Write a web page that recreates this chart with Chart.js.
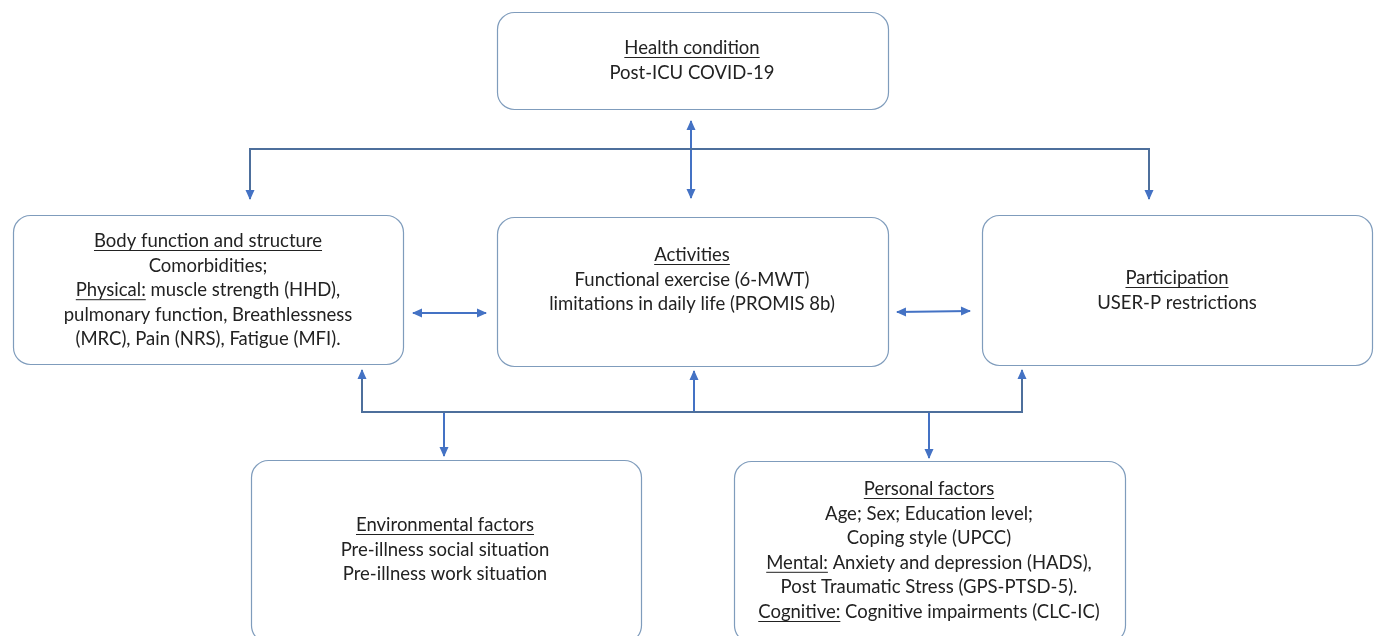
<!DOCTYPE html>
<html>
<head>
<meta charset="utf-8">
<script src="https://cdn.jsdelivr.net/npm/chart.js@4.4.1/dist/chart.umd.min.js"></script>
<style>
  html, body { margin: 0; padding: 0; background: #fff; }
  canvas { display: block; }
</style>
</head>
<body>
<canvas id="diagram" width="1378" height="636"></canvas>
<script>
// ICF model, post-ICU COVID-19 : boxes + connectors, drawn on hidden linear scales (x 0..1378, y 0..636 top-down)

// boxes
const boxNames  = ['health', 'body', 'activities', 'participation', 'environment', 'personal'];
const boxLeft   = [497, 13, 497, 982, 251, 734];
const boxRight  = [888, 403, 888, 1372, 641, 1125];
const boxTop    = [12, 215, 217, 215, 460, 461];
const boxBottom = [109, 364, 366, 365, 642, 642];
const boxCenterX = [692, 208, 692, 1177, 445, 929];
const boxFirstLineY = [48, 241, 255, 278, 525, 489];

const boxTitles = [
    'Health condition',
    'Body function and structure',
    'Activities',
    'Participation',
    'Environmental factors',
    'Personal factors'
];
// each line = [underlined prefix, plain rest]
const boxLines = [
    [['', 'Post-ICU COVID-19']],
    [['', 'Comorbidities;'],
     ['Physical: ', 'muscle strength (HHD),'],
     ['', 'pulmonary function, Breathlessness'],
     ['', '(MRC), Pain (NRS), Fatigue (MFI).']],
    [['', 'Functional exercise (6-MWT)'],
     ['', 'limitations in daily life (PROMIS 8b)']],
    [['', 'USER-P restrictions']],
    [['', 'Pre-illness social situation'],
     ['', 'Pre-illness work situation']],
    [['', 'Age; Sex; Education level;'],
     ['', 'Coping style (UPCC)'],
     ['Mental: ', 'Anxiety and depression (HADS),'],
     ['', 'Post Traumatic Stress (GPS-PTSD-5).'],
     ['Cognitive: ', 'Cognitive impairments (CLC-IC)']]
];

// connectors : polylines, arrowheads at start / end
const connectorPaths = [
    [[250, 199], [250, 149], [1149, 149], [1149, 199]],   // top bus
    [[691, 121], [691, 198]],                              // health <-> activities
    [[413, 313], [486, 313]],                              // body <-> activities
    [[897, 312], [970, 311]],                              // activities <-> participation
    [[362, 370], [362, 412], [1022, 412], [1022, 370]],   // bottom bus
    [[694, 412], [694, 371]],                              // bus -> activities
    [[444, 412], [444, 456]],                              // bus -> environment
    [[929, 412], [929, 458]]                               // bus -> personal
];
const arrowStart = [true, true, true, true, true, false, false, false];
const arrowEnd   = [true, true, true, true, true, true, true, true];

const lineColor = '#4472C4';
const busColor = '#4d6f9c';
const boxColor = '#7f9cbc';
const textColor = '#222';
const fontFamily = 'Lato, "Open Sans", sans-serif';

const datasets = connectorPaths.map((path, i) => ({
    data: path.map(p => ({ x: p[0], y: p[1] })),
    showLine: true,
    borderColor: (i === 0 || i === 4) ? busColor : lineColor,
    borderWidth: 2,
    pointRadius: 0,
    tension: 0,
    fill: false
}));

function roundRect(ctx, x1, y1, x2, y2, r) {
    ctx.beginPath();
    ctx.moveTo(x1 + r, y1);
    ctx.lineTo(x2 - r, y1);
    ctx.arcTo(x2, y1, x2, y1 + r, r);
    ctx.lineTo(x2, y2 - r);
    ctx.arcTo(x2, y2, x2 - r, y2, r);
    ctx.lineTo(x1 + r, y2);
    ctx.arcTo(x1, y2, x1, y2 - r, r);
    ctx.lineTo(x1, y1 + r);
    ctx.arcTo(x1, y1, x1 + r, y1, r);
    ctx.closePath();
}

function drawTextLine(ctx, cx, y, under, rest) {
    const wu = ctx.measureText(under).width;
    const wr = ctx.measureText(rest).width;
    let x = cx - (wu + wr) / 2;
    ctx.textAlign = 'left';
    ctx.fillText(under, x, y);
    if (under) {
        ctx.fillRect(x, y + 9, ctx.measureText(under.trimEnd()).width, 1);
    }
    ctx.fillText(rest, x + wu, y);
}

function arrowHead(ctx, from, to, color) {
    const ang = Math.atan2(to.y - from.y, to.x - from.x);
    const len = 9, half = 4.5;
    ctx.save();
    ctx.translate(to.x, to.y);
    ctx.rotate(ang);
    ctx.fillStyle = color;
    ctx.beginPath();
    ctx.moveTo(1, 0);
    ctx.lineTo(-len, -half);
    ctx.lineTo(-len, half);
    ctx.closePath();
    ctx.fill();
    ctx.restore();
}

const diagramPlugin = {
    id: 'diagram',
    beforeDatasetsDraw(chart) {
        const ctx = chart.ctx;
        const xs = chart.scales.x, ys = chart.scales.y;
        ctx.save();
        for (let i = 0; i < boxNames.length; i++) {
            const x1 = xs.getPixelForValue(boxLeft[i]);
            const x2 = xs.getPixelForValue(boxRight[i]);
            const y1 = ys.getPixelForValue(boxTop[i]);
            const y2 = ys.getPixelForValue(boxBottom[i]);
            roundRect(ctx, x1 + 0.5, y1 + 0.5, x2 + 0.5, y2 + 0.5, 17);
            ctx.fillStyle = '#fff';
            ctx.fill();
            ctx.strokeStyle = boxColor;
            ctx.lineWidth = 1.2;
            ctx.stroke();

            const cx = xs.getPixelForValue(boxCenterX[i]);
            let y = ys.getPixelForValue(boxFirstLineY[i]);
            ctx.font = '18.5px ' + fontFamily;
            ctx.fillStyle = textColor;
            ctx.textBaseline = 'middle';
            drawTextLine(ctx, cx, y, boxTitles[i], '');
            boxLines[i].forEach(l => {
                y += 24.6;
                drawTextLine(ctx, cx, y, l[0], l[1]);
            });
        }
        ctx.restore();
    },
    afterDatasetsDraw(chart) {
        const ctx = chart.ctx;
        chart.data.datasets.forEach((ds, i) => {
            const pts = chart.getDatasetMeta(i).data;
            const n = pts.length;
            if (arrowEnd[i]) arrowHead(ctx, pts[n - 2], pts[n - 1], lineColor);
            if (arrowStart[i]) arrowHead(ctx, pts[1], pts[0], lineColor);
        });
    }
};

new Chart(document.getElementById('diagram'), {
    type: 'scatter',
    data: { datasets: datasets },
    options: {
        responsive: false,
        animation: false,
        events: [],
        layout: { padding: 0 },
        plugins: {
            legend: { display: false },
            tooltip: { enabled: false }
        },
        scales: {
            x: { type: 'linear', min: 0, max: 1378, display: false },
            y: { type: 'linear', min: 0, max: 636, reverse: true, display: false }
        }
    },
    plugins: [diagramPlugin]
});
</script>
</body>
</html>
